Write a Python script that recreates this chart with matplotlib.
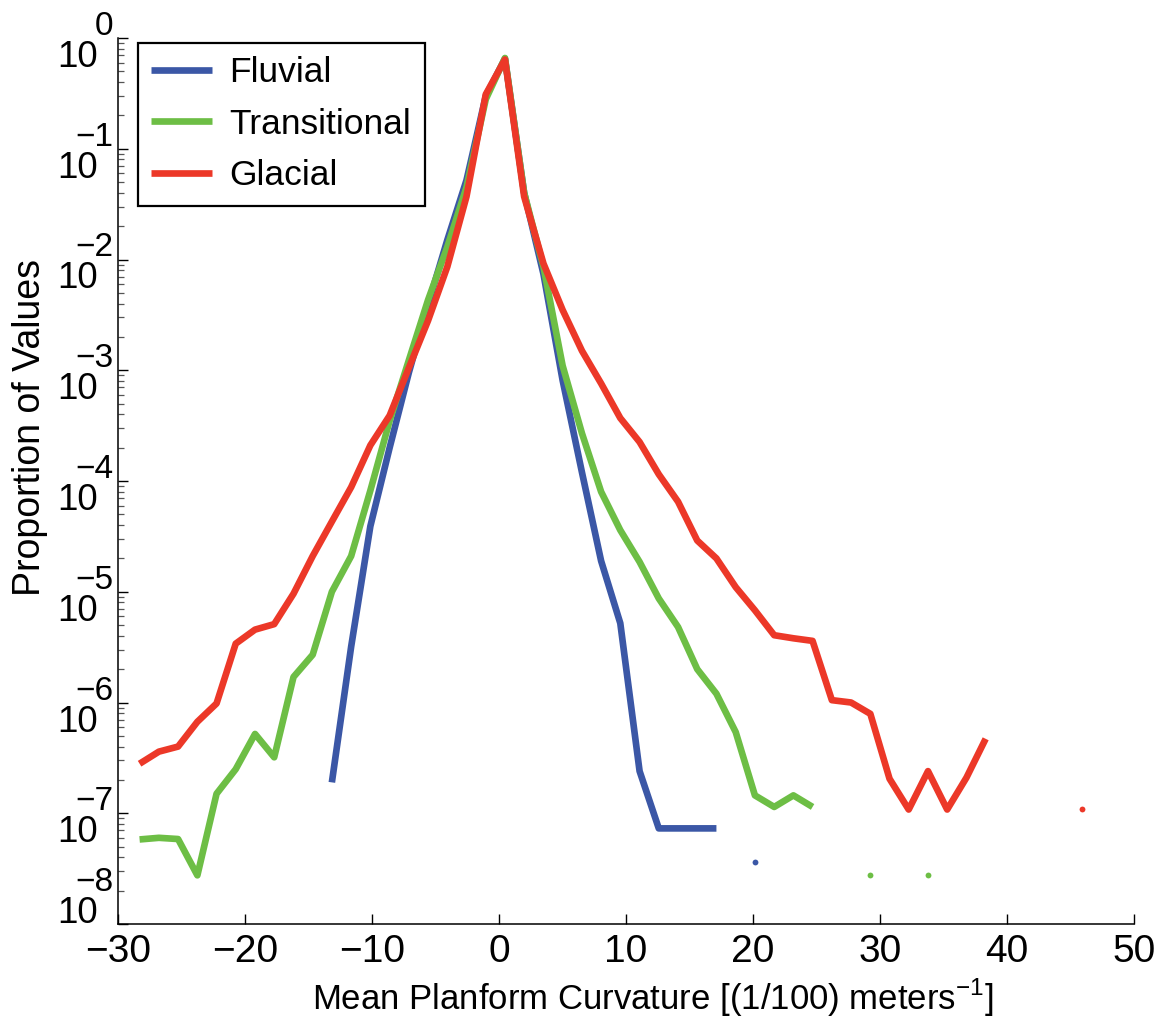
import numpy as np
import matplotlib
matplotlib.use("Agg")
import matplotlib.pyplot as plt
from matplotlib.transforms import blended_transform_factory, ScaledTranslation

plt.rcParams['font.family'] = ['Liberation Sans', 'DejaVu Sans']
plt.rcParams['axes.unicode_minus'] = True

nan = np.nan

# bin centres (Mean planform curvature)
bin_centers = [-28.30, -26.78, -25.27, -23.75, -22.24, -20.73, -19.21, -17.70, -16.18, -14.67,
               -13.16, -11.64, -10.13, -8.61, -7.10, -5.59, -4.07, -2.56, -1.04, 0.47,
               1.98, 3.50, 5.01, 6.53, 8.04, 9.55, 11.07, 12.58, 14.10, 15.61,
               17.12, 18.64, 20.15, 21.67, 23.18, 24.69, 26.21, 27.72, 29.24, 30.75,
               32.26, 33.78, 35.29, 36.81, 38.32, 39.83, 41.35, 42.86, 44.38, 45.89]

fluvial = [nan, nan, nan, nan, nan, nan, nan, nan, nan, nan,
           1.9e-7, 3.2e-6, 3.9e-5, 2.0e-4, 9.5e-4, 3.9e-3, 1.5e-2, 5.2e-2, 0.30, 0.65,
           0.040, 7.4e-3, 8.1e-4, 1.2e-4, 1.9e-5, 5.2e-6, 2.4e-7, 7.3e-8, 7.3e-8, 7.3e-8,
           7.3e-8, nan, 3.6e-8, nan, nan, nan, nan, nan, nan, nan,
           nan, nan, nan, nan, nan, nan, nan, nan, nan, nan]

transitional = [5.8e-8, 6.0e-8, 5.85e-8, 2.75e-8, 1.5e-7, 2.5e-7, 5.2e-7, 3.2e-7, 1.7e-6, 2.7e-6,
                1.0e-5, 2.1e-5, 8.2e-5, 3.5e-4, 1.23e-3, 4.3e-3, 1.3e-2, 4.5e-2, 0.28, 0.66,
                0.040, 8.6e-3, 1.1e-3, 2.7e-4, 8.0e-5, 3.6e-5, 1.86e-5, 8.7e-6, 4.8e-6, 2.0e-6,
                1.2e-6, 5.4e-7, 1.45e-7, 1.14e-7, 1.45e-7, 1.14e-7, nan, nan, 2.75e-8, nan,
                nan, 2.75e-8, nan, nan, nan, nan, nan, nan, nan, nan]

glacial = [2.8e-7, 3.6e-7, 4.0e-7, 6.7e-7, 9.8e-7, 3.4e-6, 4.55e-6, 5.1e-6, 9.6e-6, 2.1e-5,
           4.3e-5, 8.8e-5, 2.1e-4, 3.9e-4, 1.05e-3, 2.8e-3, 8.6e-3, 3.7e-2, 0.31, 0.64,
           3.7e-2, 9.2e-3, 3.5e-3, 1.5e-3, 7.6e-4, 3.7e-4, 2.25e-4, 1.15e-4, 6.5e-5, 2.9e-5,
           2.0e-5, 1.1e-5, 6.8e-6, 4.05e-6, 3.8e-6, 3.6e-6, 1.05e-6, 1.0e-6, 7.9e-7, 2.05e-7,
           1.08e-7, 2.4e-7, 1.08e-7, 2.1e-7, 4.7e-7, nan, nan, nan, nan, 1.1e-7]

series_names = ["Fluvial", "Transitional", "Glacial"]
series_colors = ["#3b57a6", "#6dbe45", "#ec3828"]
x_ticks = [-30, -20, -10, 0, 10, 20, 30, 40, 50]
y_exponents = [0, -1, -2, -3, -4, -5, -6, -7, -8]

fig = plt.figure(figsize=(11.61, 10.19), dpi=100)
ax = fig.add_axes([118/1161, 1-924/1019, (1134-118)/1161, (924-38)/1019])

x = np.array(bin_centers)
for name, vals, col in zip(series_names, [fluvial, transitional, glacial], series_colors):
    v = np.array(vals, dtype=float)
    ax.plot(x, v, color=col, lw=4.8, label=name, solid_capstyle='butt')
    fin = np.isfinite(v)
    left = np.concatenate([[False], fin[:-1]])
    right = np.concatenate([fin[1:], [False]])
    iso = fin & ~left & ~right
    ax.plot(x[iso], v[iso], 'o', color=col, ms=4.2, mew=0, label='_nolegend_')

ax.set_yscale('log')
ax.set_xlim(-30, 50)
ax.set_ylim(1e-8, 1)
ax.set_xticks(x_ticks)
ax.set_xticklabels([f"{t:d}".replace("-", "\u2212") for t in x_ticks])
ax.set_yticks([10.0**e for e in y_exponents])
ax.yaxis.set_minor_locator(matplotlib.ticker.LogLocator(base=10, subs=np.arange(2, 10), numticks=20))
ax.yaxis.set_minor_formatter(matplotlib.ticker.NullFormatter())
ax.set_yticklabels([])

for s in ['top', 'right']:
    ax.spines[s].set_visible(False)
for s in ['left', 'bottom']:
    ax.spines[s].set_linewidth(1.1)
ax.tick_params(which='major', direction='in', length=7.5, width=1.0, labelsize=28, pad=7)
ax.tick_params(which='minor', direction='in', length=4.5, width=0.9, color='#555555')

# y tick labels in the style 10^n
trans = blended_transform_factory(ax.transAxes, ax.transData)
for e in y_exponents:
    shift = 30 if e == -8 else 0
    base_tr = trans + ScaledTranslation(-20/100, (-2 + shift)/100, fig.dpi_scale_trans)
    ax.text(0, 10.0**e, "10", transform=base_tr, ha='right', va='top', fontsize=26.5)
    exp_tr = trans + ScaledTranslation(-5/100, (3 + shift)/100, fig.dpi_scale_trans)
    lab = str(e).replace("-", "\u2212")
    ax.text(0, 10.0**e, lab, transform=exp_tr, ha='right', va='baseline', fontsize=24)

ax.set_xlabel(r"Mean Planform Curvature [(1/100) meters$^{\mathregular{-1}}$]", fontsize=25)
ax.xaxis.set_label_coords((653-118)/1016, -(1010-924)/886)
ax.xaxis.label.set_va('baseline')
ax.set_ylabel("Proportion of Values", fontsize=27)
ax.yaxis.set_label_coords(-(118-30)/1016, (924-427)/886)
ax.yaxis.label.set_va('center')

leg = ax.legend(loc='upper left', bbox_to_anchor=((138-118)/1016, (924-43)/886),
                fontsize=25.5, frameon=True, fancybox=False, edgecolor='black', framealpha=1,
                handlelength=1.7, handletextpad=0.5, borderpad=0.38, labelspacing=0.52,
                borderaxespad=0)
leg.get_frame().set_linewidth(1.6)

fig.savefig("out.png", dpi=100)
